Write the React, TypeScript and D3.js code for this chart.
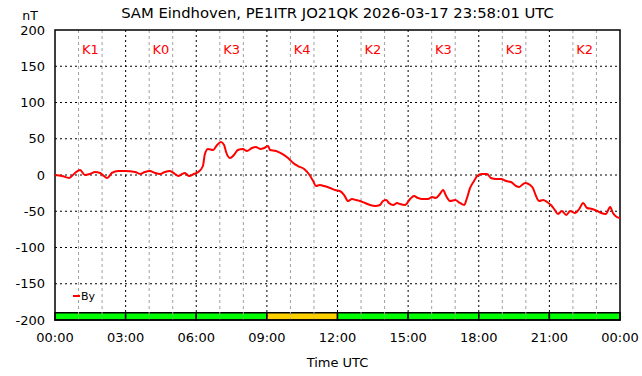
import React from "react";
import * as d3 from "d3";

const title = "SAM Eindhoven, PE1ITR JO21QK 2026-03-17 23:58:01 UTC";
const yTicks = [-200, -150, -100, -50, 0, 50, 100, 150, 200];
const xTickLabels = ["00:00", "03:00", "06:00", "09:00", "12:00", "15:00", "18:00", "21:00", "00:00"];
const kLabels = ["K1", "K0", "K3", "K4", "K2", "K3", "K3", "K2"];
const kValues = [1, 0, 3, 4, 2, 3, 3, 2];

const byMinutes = [
  0, 18, 36, 51, 64, 76, 89, 102, 115, 122, 133, 145, 161, 178, 204, 217, 229, 242, 255, 268,
  280, 293, 306, 314, 324, 331, 342, 354, 365, 377, 382, 390, 403, 413, 423, 431, 436, 446, 456, 466,
  479, 489, 502, 512, 523, 533, 543, 548, 563, 579, 594, 607, 619, 635, 647, 658, 665, 675, 686, 701,
  714, 726, 737, 747, 757, 767, 777, 790, 803, 816, 828, 836, 844, 851, 862, 872, 879, 892, 905, 915,
  925, 935, 951, 961, 971, 981, 989, 997, 1007, 1020, 1032, 1043, 1050, 1058, 1068, 1076, 1088, 1101, 1111, 1124,
  1137, 1150, 1162, 1175, 1183, 1190, 1198, 1211, 1218, 1226, 1234, 1244, 1254, 1264, 1274, 1282, 1292, 1303, 1313, 1326,
  1336, 1346, 1356, 1369, 1382, 1392, 1404, 1415, 1422, 1432, 1440,
];
const byValues = [
  0, -1.4, -4.1, 2.8, 6.9, 0, 1.4, 4.1, 2.8, 0, -4.1, 2.8, 5.5, 5.5, 4.1, 1.4, 4.1, 5.5, 2.8, 1.4,
  4.1, 5.5, 1.4, -1.4, 1.4, 2.8, -1.4, 1.4, 4.1, 12.4, 29, 35.9, 34.5, 41.4, 45.5, 41.4, 31.7, 23.4, 27.6, 34.5,
  35.9, 33.1, 37.2, 38.6, 35.9, 37.2, 40, 34.5, 33.1, 29, 23.4, 16.6, 12.4, 8.3, 1.4, -8.3, -15.2, -13.8, -15.2, -17.9,
  -20.7, -22.1, -27.6, -35.9, -33.1, -34.5, -35.9, -38.6, -41.4, -42.8, -41.4, -35.9, -34.5, -38.6, -41.4, -38.6, -40, -41.4, -33.1, -29,
  -31.7, -33.1, -33.1, -30.3, -31.7, -26.2, -20.7, -29, -35.9, -34.5, -38.6, -41.4, -31.7, -17.9, -8.3, -1.4, 1.4, 1.4, -4.1, -5.5,
  -5.5, -8.3, -9.7, -15.2, -16.6, -13.8, -11, -13.8, -17.9, -29, -35.9, -34.5, -37.2, -41.4, -48.3, -53.8, -49.7, -55.2, -49.7, -52.4,
  -46.9, -38.6, -45.5, -46.9, -49.7, -52.4, -53.8, -44.1, -52.4, -57.9, -59.3,
];

const W = 642;
const H = 376;
const L = 55;
const R = 620;
const T = 30;
const B = 320;
const FONT = "DejaVu Sans, sans-serif";

export default function App() {
  const x = d3.scaleLinear().domain([0, 1440]).range([L, R]);
  const y = d3.scaleLinear().domain([-200, 200]).range([B, T]);
  const line = d3
    .line<number>()
    .x((_, i) => x(byMinutes[i]))
    .y((v) => y(v))
    .curve(d3.curveMonotoneX);
  const hours = d3.range(0, 25);
  const kColor = (k: number) => (k >= 4 ? "#ffd000" : "#00ff00");

  return (
    <svg
      width={W}
      height={H}
      style={{ position: "absolute", left: 0, top: 0, background: "#fff" }}
      fontFamily={FONT}
    >
      <rect x={0} y={0} width={W} height={H} fill="#fff" />
      <text x={(L + R) / 2} y={18} textAnchor="middle" fontSize={14.8} fill="#000">
        {title}
      </text>
      <text x={30} y={20} textAnchor="middle" fontSize={12.5} fill="#000">
        nT
      </text>

      {/* K-index bars */}
      {kValues.map((k, i) => (
        <rect
          key={"kb" + i}
          x={x(i * 180)}
          y={y(-190)}
          width={x(180) - x(0)}
          height={y(-200) - y(-190)}
          fill={kColor(k)}
          stroke="#000"
          strokeWidth={1.5}
        />
      ))}

      {/* minor hourly grid */}
      {hours
        .filter((h) => h % 3 !== 0)
        .map((h) => (
          <line
            key={"gm" + h}
            x1={x(h * 60)}
            x2={x(h * 60)}
            y1={T}
            y2={B}
            stroke="#a0a0a0"
            strokeWidth={1}
            strokeDasharray="3,3"
          />
        ))}
      {/* major vertical grid */}
      {hours
        .filter((h) => h % 3 === 0 && h > 0 && h < 24)
        .map((h) => (
          <line
            key={"gM" + h}
            x1={x(h * 60)}
            x2={x(h * 60)}
            y1={T}
            y2={B}
            stroke="#000"
            strokeWidth={1}
            strokeDasharray="2,3"
          />
        ))}
      {/* horizontal grid */}
      {yTicks
        .filter((v) => v > -200 && v < 200)
        .map((v) => (
          <line
            key={"gh" + v}
            x1={L}
            x2={R}
            y1={y(v)}
            y2={y(v)}
            stroke="#000"
            strokeWidth={1}
            strokeDasharray="2,3"
          />
        ))}

      {/* frame */}
      <rect x={L} y={T} width={R - L} height={B - T} fill="none" stroke="#000" strokeWidth={1.5} />

      {/* K labels */}
      {kLabels.map((k, i) => (
        <text
          key={"kl" + i}
          x={x(i * 180 + 90)}
          y={54}
          textAnchor="middle"
          fontSize={13}
          fill="#ff0000"
        >
          {k}
        </text>
      ))}

      {/* By line */}
      <path d={line(byValues) || ""} fill="none" stroke="#ff0000" strokeWidth={2} strokeLinejoin="round" />

      {/* y tick labels */}
      {yTicks.map((v) => (
        <text key={"yt" + v} x={45} y={y(v) + 4.5} textAnchor="end" fontSize={13} fill="#000">
          {v}
        </text>
      ))}
      {/* x tick labels */}
      {xTickLabels.map((s, i) => (
        <text key={"xt" + i} x={x(i * 180)} y={342} textAnchor="middle" fontSize={13} fill="#000">
          {s}
        </text>
      ))}
      <text x={(L + R) / 2} y={367} textAnchor="middle" fontSize={13} fill="#000">
        Time UTC
      </text>

      {/* legend */}
      <line x1={73} x2={80} y1={296} y2={296} stroke="#ff0000" strokeWidth={2} />
      <text x={81} y={300} fontSize={11} fill="#000">
        By
      </text>
    </svg>
  );
}
